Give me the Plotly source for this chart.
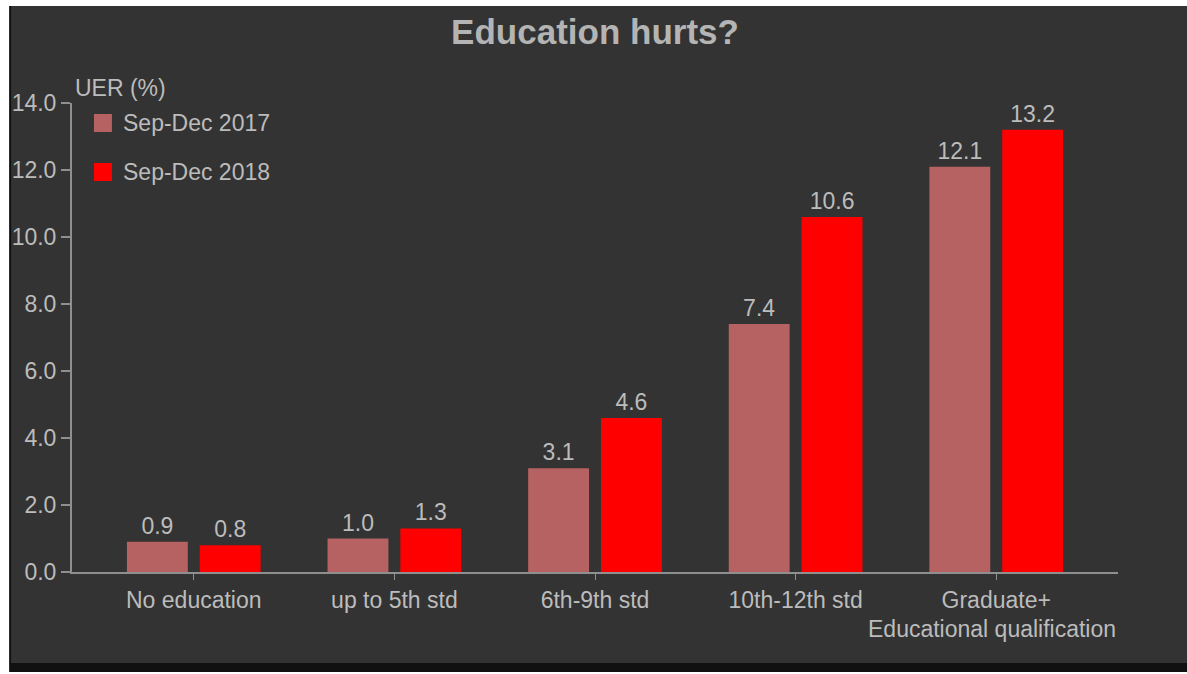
import plotly.graph_objects as go

# Unemployment rate (%) by educational qualification
categories = ["No education", "up to 5th std", "6th-9th std", "10th-12th std", "Graduate+"]
series_names = ["Sep-Dec 2017", "Sep-Dec 2018"]
uer_2017 = [0.9, 1.0, 3.1, 7.4, 12.1]
uer_2018 = [0.8, 1.3, 4.6, 10.6, 13.2]
y_ticks = [0, 2, 4, 6, 8, 10, 12, 14]

W, H = 1187, 674
M_L, M_R, M_T, M_B = 70, 69, 103, 102
PLOT_W = W - M_L - M_R
PLOT_H = H - M_T - M_B

PANEL = "#333333"
TEXT = "#bcbcbc"
AXIS = "#8f8f8f"
C2017 = "#b76262"
C2018 = "#ff0000"
FONT = "Liberation Sans, Arial, sans-serif"
FS = 23


def px_x(px):
    return (px - M_L) / PLOT_W


def px_y(py):
    return (H - M_B - py) / PLOT_H


fig = go.Figure()
for name, vals, col in [(series_names[0], uer_2017, C2017), (series_names[1], uer_2018, C2018)]:
    fig.add_trace(go.Bar(
        x=categories, y=vals, name=name,
        marker=dict(color=col, line=dict(width=0)),
        text=[f"{v:.1f}" for v in vals],
        textposition="outside",
        textfont=dict(family=FONT, size=FS, color=TEXT),
        cliponaxis=False,
        showlegend=False,
    ))

shapes = [
    # dark panel behind the chart, with a thin black edge on the left and bottom
    dict(type="rect", xref="paper", yref="paper", layer="below",
         x0=px_x(7), x1=px_x(W + 2), y0=px_y(672), y1=px_y(6),
         fillcolor="#111111", line=dict(width=0)),
    dict(type="rect", xref="paper", yref="paper", layer="below",
         x0=px_x(9), x1=px_x(W + 2), y0=px_y(663), y1=px_y(6),
         fillcolor=PANEL, line=dict(width=0)),
]

# legend swatches
for i, col in enumerate([C2017, C2018]):
    top = 114 + i * 49
    shapes.append(dict(type="rect", xref="paper", yref="paper",
                       x0=px_x(92), x1=px_x(110), y0=px_y(top + 18), y1=px_y(top),
                       fillcolor=col, line=dict(width=0)))

annotations = [
    dict(text="UER (%)", xref="paper", yref="paper", x=px_x(71), y=px_y(88),
         xanchor="left", yanchor="middle", showarrow=False,
         font=dict(family=FONT, size=FS, color=TEXT)),
    dict(text="Educational qualification", xref="paper", yref="paper", x=px_x(1118), y=px_y(629),
         xanchor="right", yanchor="middle", showarrow=False,
         font=dict(family=FONT, size=FS, color=TEXT)),
]
for i, name in enumerate(series_names):
    annotations.append(dict(text=name, xref="paper", yref="paper",
                            x=px_x(119), y=px_y(123 + i * 49),
                            xanchor="left", yanchor="middle", showarrow=False,
                            font=dict(family=FONT, size=FS, color=TEXT)))

fig.update_layout(
    width=W, height=H,
    margin=dict(l=M_L, r=M_R, t=M_T, b=M_B, pad=0),
    paper_bgcolor="#ffffff",
    plot_bgcolor=PANEL,
    barmode="group",
    bargap=0.274,
    bargroupgap=0.164,
    title=dict(text="<b>Education hurts?</b>", x=0.5, xref="paper",
               y=1 - 32 / H, yref="container", xanchor="center", yanchor="middle",
               font=dict(family=FONT, size=35, color="#b4b4b4")),
    font=dict(family=FONT, color=TEXT),
    shapes=shapes,
    annotations=annotations,
    xaxis=dict(
        type="category", range=[-0.607, 4.607],
        showline=True, linecolor=AXIS, linewidth=2,
        ticks="outside", ticklen=6, tickwidth=1, tickcolor=AXIS,
        tickfont=dict(family=FONT, size=FS, color=TEXT),
        showgrid=False, zeroline=False, fixedrange=True,
    ),
    yaxis=dict(
        range=[0, 14], tickvals=y_ticks, tickformat=".1f",
        showline=True, linecolor=AXIS, linewidth=2,
        ticks="outside", ticklen=9, tickwidth=2, tickcolor=AXIS,
        tickfont=dict(family=FONT, size=FS, color=TEXT),
        showgrid=False, zeroline=False, fixedrange=True,
    ),
)

fig.write_html("out.html")
